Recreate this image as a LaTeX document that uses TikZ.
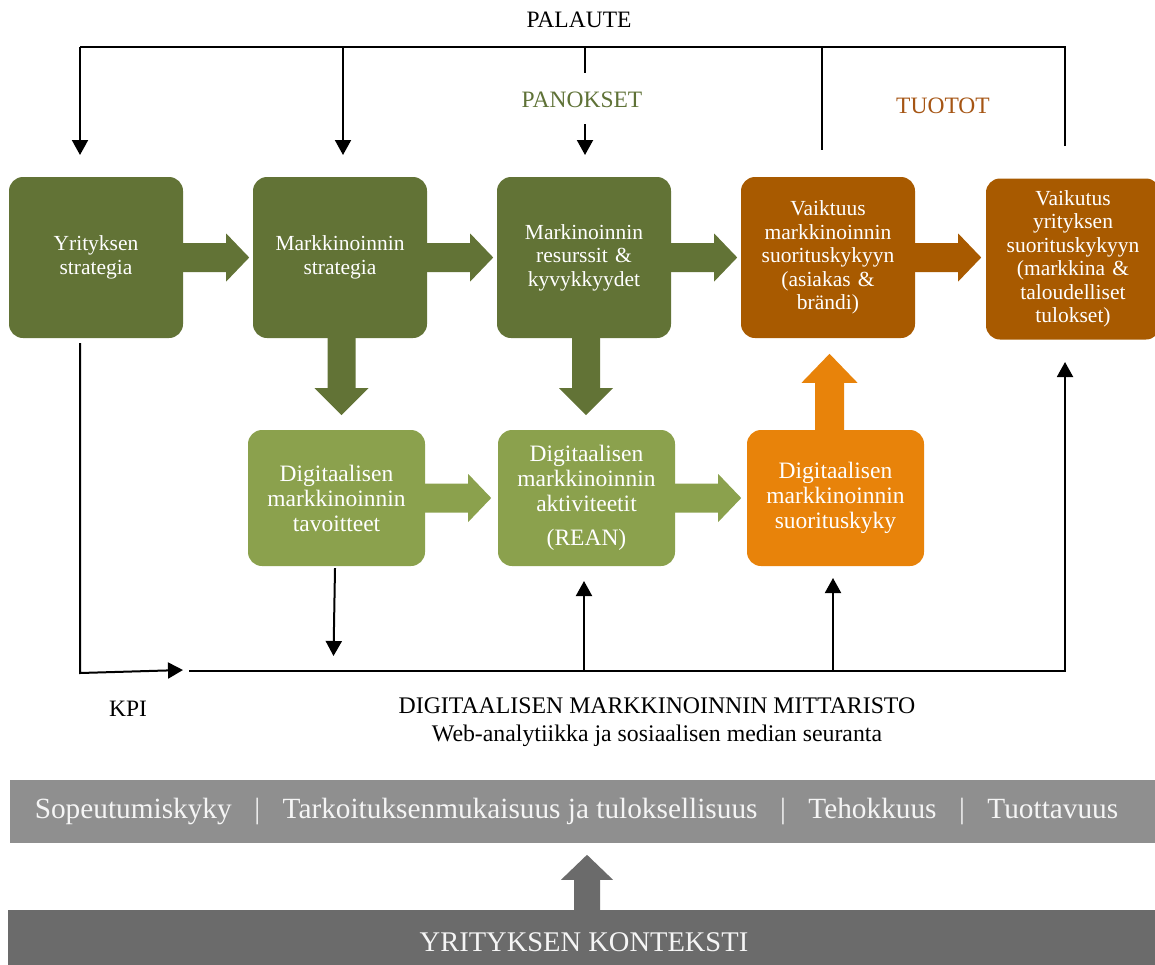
\documentclass[tikz,border=0pt]{standalone}
\usepackage{fontspec}
\setmainfont{Liberation Serif}
\usetikzlibrary{arrows.meta,calc}

\definecolor{dkgreen}{RGB}{98,115,54}
\definecolor{ltgreen}{RGB}{139,161,77}
\definecolor{rust}{RGB}{168,90,0}
\definecolor{amber}{RGB}{232,131,10}
\definecolor{pangreen}{RGB}{95,114,55}
\definecolor{tuobrown}{RGB}{165,85,20}
\definecolor{bandlight}{RGB}{143,143,143}
\definecolor{banddark}{RGB}{107,107,107}
\definecolor{bandtext}{RGB}{245,245,245}

\begin{document}
\begin{tikzpicture}[x=1pt,y=-1pt,
  >={Triangle[width=16pt,length=15pt]},
  wire/.style={line width=2pt},
  topbox/.style={rounded corners=14pt, minimum width=174pt, minimum height=161pt,
    text width=170pt, align=center, inner sep=0pt, text=white,
    font=\fontsize{21.5}{23.5}\selectfont},
  midbox/.style={rounded corners=14pt, minimum width=177pt, minimum height=136pt,
    text width=173pt, align=center, inner sep=0pt, text=white,
    font=\fontsize{23.5}{25}\selectfont},
  lbl/.style={inner sep=0pt, font=\fontsize{23.5}{28}\selectfont},
  pics/rarrow/.style={code={
    \fill (0,-14.5) -- (43,-14.5) -- (43,-24) -- (66,0) -- (43,24) -- (43,14.5) -- (0,14.5) -- cycle;}},
  pics/darrow/.style={code={
    \fill (-14,0) -- (-14,50) -- (-27,50) -- (0,77) -- (27,50) -- (14,50) -- (14,0) -- cycle;}},
  pics/uarrow/.style={code={
    \fill (-14.5,0) -- (-14.5,-47) -- (-28,-47) -- (0,-76) -- (28,-47) -- (14.5,-47) -- (14.5,0) -- cycle;}},
  pics/garrow/.style={code={
    \fill (-13,0) -- (-13,-30) -- (-26,-30) -- (0,-55) -- (26,-30) -- (13,-30) -- (13,0) -- cycle;}},
]
\useasboundingbox (0,0) rectangle (1155,964);

% --- upper row: strategy, resources, outcomes
\node[topbox, fill=dkgreen] (b1) at (96,257.5) {Yrityksen\\strategia};
\node[topbox, fill=dkgreen] (b2) at (340,257.5) {Markkinoinnin\\strategia};
\node[topbox, fill=dkgreen] (b3) at (584,257.5) {Markinoinnin\\resurssit \&\\kyvykkyydet};
\node[topbox, fill=rust] (b4) at (828,257.5) {Vaiktuus\\markkinoinnin\\suorituskykyyn\\(asiakas \&\\brändi)};
\node[topbox, fill=rust] (b5) at (1073,259) {Vaikutus\\yrityksen\\suorituskykyyn\\(markkina \&\\taloudelliset\\tulokset)};

% --- lower row: digital marketing
\node[midbox, fill=ltgreen] (b6) at (336.5,498) {Digitaalisen\\markkinoinnin\\tavoitteet};
\node[midbox, fill=ltgreen] (b7) at (586.5,498) {Digitaalisen\\markkinoinnin\\aktiviteetit\\[9pt](REAN)};
\node[midbox, fill=amber] (b8) at (835.5,498) {Digitaalisen\\markkinoinnin\\suorituskyky};

% --- block arrows between the boxes
\path (b1.east) pic[dkgreen] {rarrow};
\path (b2.east) pic[dkgreen] {rarrow};
\path (b3.east) pic[dkgreen] {rarrow};
\path (b4.east) pic[rust] {rarrow};
\path (b6.east) pic[ltgreen] {rarrow};
\path (b7.east) pic[ltgreen] {rarrow};
\path ($(b2.south)+(1.5,0)$) pic[dkgreen] {darrow};
\path ($(b3.south)+(2,0)$) pic[dkgreen] {darrow};
\path ($(b8.north)+(-6,0)$) pic[amber] {uarrow};

% --- headings
\node[lbl] (palaute) at (579,20) {PALAUTE};
\node[lbl, text=pangreen] (panokset) at (582,100) {PANOKSET};
\node[lbl, text=tuobrown] (tuotot) at (943,106) {TUOTOT};

% --- feedback loop along the top
\coordinate (fbL) at (80,47);
\coordinate (fbR) at (1065,47);
\coordinate (inA) at (80,155);
\coordinate (inB) at (343,155);
\coordinate (inC) at (585,155);
\coordinate (panTop) at (585,73);
\coordinate (panBot) at (585,124);
\coordinate (outA) at (822,150);
\coordinate (outB) at (1065,146);
\draw[wire] (outB) -- (fbR) -- (fbL);
\draw[wire,->] (fbL) -- (inA);
\draw[wire,->] (fbL -| inB) -- (inB);
\draw[wire] (fbL -| outA) -- (outA);
\draw[wire] (fbL -| panTop) -- (panTop);
\draw[wire,->] (panBot) -- (inC);

% --- measurement bus along the bottom
\coordinate (kpiTop) at (80,343);
\coordinate (kpiCorner) at (80,673);
\coordinate (kpiTip) at (183,670);
\coordinate (busL) at (189,671);
\coordinate (busR) at (1065,671);
\coordinate (resTip) at (1065,362);
\coordinate (goalTip) at (333.5,656);
\coordinate (actTip) at (584,581);
\coordinate (perfTip) at (833,578);
\draw[wire,->] (kpiTop) -- (kpiCorner) -- (kpiTip);
\draw[wire,->] (busL) -- (busR) -- (resTip);
\draw[wire,->] ($(b6.south)+(-1.5,2)$) -- (goalTip);
\draw[wire,->] (busL -| actTip) -- (actTip);
\draw[wire,->] (busL -| perfTip) -- (perfTip);

\node[lbl] (kpi) at (128,709) {KPI};
\node[lbl, align=center, font=\fontsize{23.8}{28}\selectfont] (mitt) at (657,722) {DIGITAALISEN MARKKINOINNIN MITTARISTO\\Web-analytiikka ja sosiaalisen median seuranta};

% --- bands at the foot
\node[fill=bandlight, minimum width=1150pt, minimum height=63pt, inner sep=0pt] (band1) at (585,811.5) {};
\node[text=bandtext, inner sep=0pt, font=\fontsize{29.3}{32}\selectfont] (values) at (576.5,811)
  {Sopeutumiskyky\hspace{22.5pt}|\hspace{22.5pt}Tarkoituksenmukaisuus ja tuloksellisuus\hspace{22.5pt}|\hspace{22.5pt}Tehokkuus\hspace{22.5pt}|\hspace{22.5pt}Tuottavuus};
\node[fill=banddark, minimum width=1152pt, minimum height=65pt, inner sep=0pt] (band2) at (584,942.5) {};
\node[text=bandtext, inner sep=0pt, font=\fontsize{28.5}{32}\selectfont] (context) at (584,942.5) {YRITYKSEN KONTEKSTI};
\path ($(band2.north)+(3,0)$) pic[banddark] {garrow};

\end{tikzpicture}
\end{document}
